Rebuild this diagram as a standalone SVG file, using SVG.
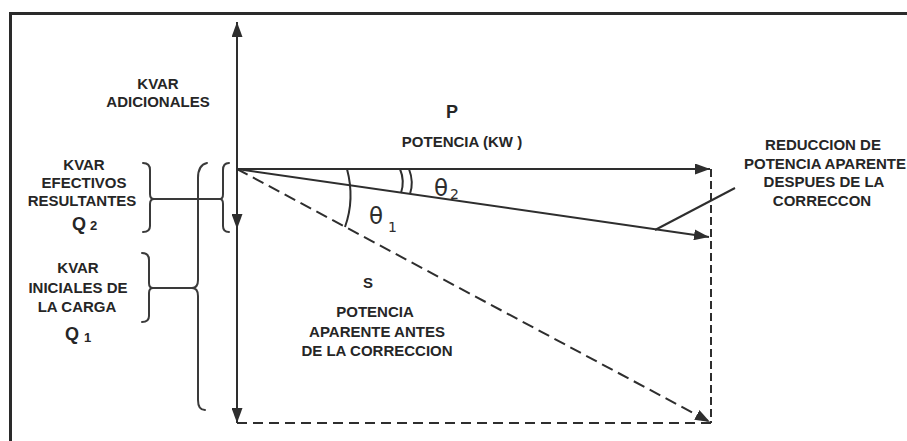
<svg xmlns="http://www.w3.org/2000/svg" width="907" height="441" viewBox="0 0 907 441">
<style>
.ln{stroke:#2e2e2e;stroke-width:2;fill:none}
.br{stroke:#3a3a3a;stroke-width:2;fill:none;stroke-linecap:round}
.t{font-family:"Liberation Sans",Arial,sans-serif;font-weight:bold;font-size:15px;fill:#262626;text-anchor:middle}
.big{font-size:18px}
.th{font-family:"DejaVu Sans",sans-serif;font-size:23px;fill:#2e2e2e}
.sub{font-family:"DejaVu Sans",sans-serif;font-size:14px;fill:#2e2e2e}
.qs{font-family:"Liberation Sans",Arial,sans-serif;font-weight:bold;font-size:13px;fill:#262626}
</style>
<defs>
<marker id="ah" markerUnits="userSpaceOnUse" markerWidth="15" markerHeight="11" refX="15" refY="5.5" orient="auto-start-reverse">
<path d="M0,0 L15,5.5 L0,11 z" fill="#2e2e2e"/>
</marker>
</defs>
<rect width="907" height="441" fill="#fff"/>
<g id="frame">
<path d="M10.5,441 L10.5,13.5 L907,13.5" stroke="#2a2a2a" stroke-width="3" fill="none"/>
</g>
<g id="connectors">
<line class="ln" x1="237" y1="22" x2="237" y2="423" marker-start="url(#ah)" marker-end="url(#ah)"/>
<line class="ln" x1="237" y1="169" x2="237" y2="229" marker-end="url(#ah)"/>
<line class="ln" x1="237" y1="169" x2="710" y2="169" marker-end="url(#ah)"/>
<line class="ln" x1="237" y1="169" x2="709" y2="237" marker-end="url(#ah)"/>
<line class="ln" x1="237" y1="169" x2="710" y2="422" stroke-dasharray="12 6" marker-end="url(#ah)"/>
<line class="ln" x1="237" y1="423" x2="711" y2="423" stroke-dasharray="10 6"/>
<line class="ln" x1="711" y1="169" x2="711" y2="423" stroke-dasharray="8 4"/>
<line class="ln" x1="655" y1="230" x2="735" y2="188" stroke-width="1.6"/>
<path class="ln" d="M347,169 Q355,199 345,227" stroke-width="1.6"/>
<path class="ln" d="M400,169 Q405,181 401,193" stroke-width="1.6"/>
<path class="ln" d="M409,169 Q414,182 410,194" stroke-width="1.6"/>
</g>
<g id="brackets">
<path class="br" d="M143,163 Q150,163 150,170 L150,194 Q150,199 154,199 Q150,199 150,204 L150,226 Q150,232 143,232"/>
<line class="br" x1="154" y1="199" x2="220" y2="199"/>
<path class="br" d="M229,163 Q223,163 223,170 L223,194 Q223,199 220,199 Q223,199 223,204 L223,226 Q223,232 229,232"/>
<path class="br" d="M207,163 Q198,165 198,178 L198,280 Q198,288 192,288 Q198,288 198,296 L198,400 Q198,410 205,410"/>
<path class="br" d="M142,253 Q149,253 149,260 L149,283 Q149,288 153,288 Q149,288 149,293 L149,316 Q149,322 142,322"/>
<line class="br" x1="153" y1="288" x2="192" y2="288"/>
</g>
<g id="kvar-adicionales">
<text class="t" x="158" y="89">KVAR</text>
<text class="t" x="158" y="107">ADICIONALES</text>
</g>
<g id="kvar-efectivos">
<text class="t" x="84" y="170">KVAR</text>
<text class="t" x="84" y="188">EFECTIVOS</text>
<text class="t" x="82" y="206">RESULTANTES</text>
<text class="t big" x="79" y="230">Q</text>
<text class="qs" x="90" y="230">2</text>
</g>
<g id="kvar-iniciales">
<text class="t" x="78" y="273">KVAR</text>
<text class="t" x="78" y="293">INICIALES DE</text>
<text class="t" x="77" y="312">LA CARGA</text>
<text class="t big" x="72" y="340">Q</text>
<text class="qs" x="84" y="342">1</text>
</g>
<g id="potencia-p">
<text class="t big" x="452" y="118">P</text>
<text class="t" x="462" y="147">POTENCIA (KW )</text>
</g>
<g id="theta2">
<text class="th" x="434" y="196">θ</text>
<text class="sub" x="450" y="199">2</text>
</g>
<g id="theta1">
<text class="th" x="369" y="224">θ</text>
<text class="sub" x="388" y="232">1</text>
</g>
<g id="potencia-s">
<text class="t" x="368" y="288">S</text>
<text class="t" x="375" y="317">POTENCIA</text>
<text class="t" x="377" y="337">APARENTE ANTES</text>
<text class="t" x="377" y="356">DE LA CORRECCION</text>
</g>
<g id="reduccion">
<text class="t" x="823" y="150">REDUCCION DE</text>
<text class="t" x="825" y="169">POTENCIA APARENTE</text>
<text class="t" x="824" y="187">DESPUES DE LA</text>
<text class="t" x="822" y="206">CORRECCON</text>
</g>
</svg>
